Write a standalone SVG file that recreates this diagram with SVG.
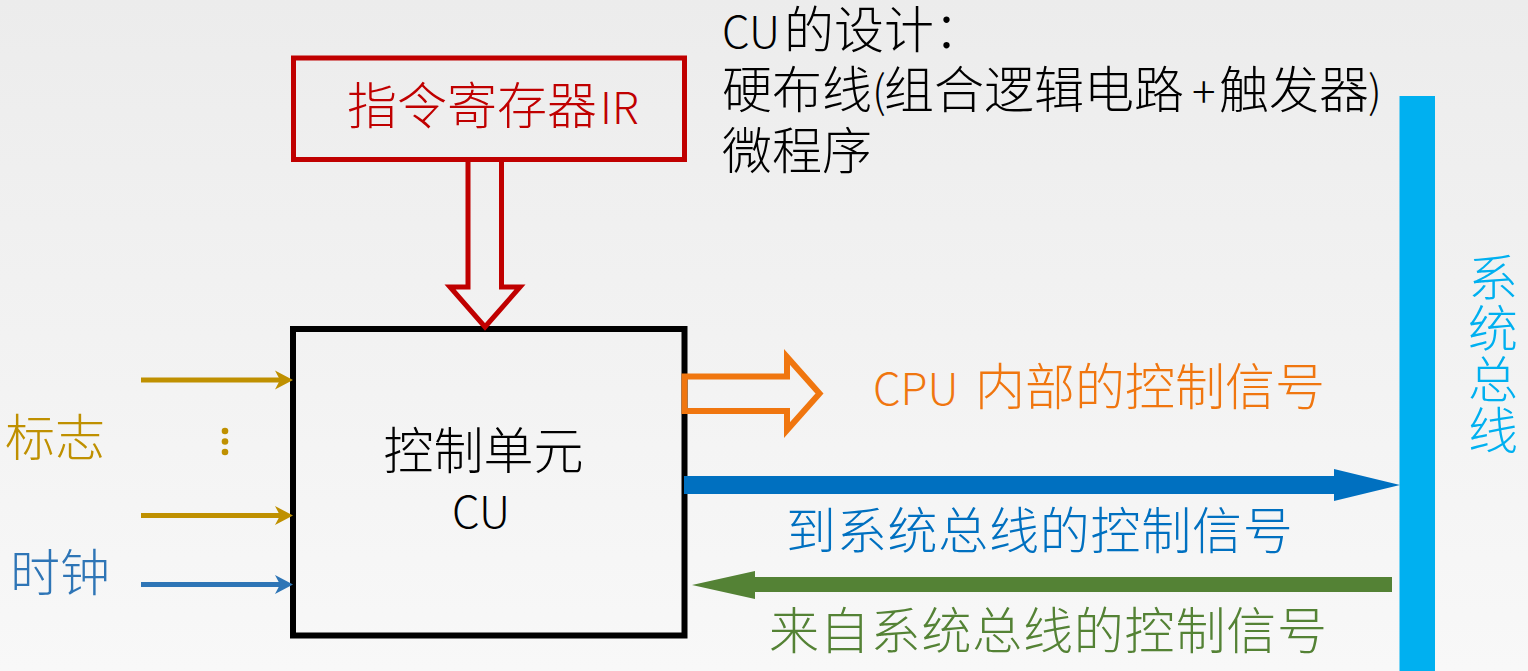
<svg xmlns="http://www.w3.org/2000/svg" width="1528" height="671" viewBox="0 0 1528 671">
  <defs>
    <linearGradient id="bg" x1="0" y1="0" x2="0" y2="1">
      <stop offset="0" stop-color="#ECECEC"/>
      <stop offset="1" stop-color="#F8F8F8"/>
    </linearGradient>
    <marker id="head-gold" markerUnits="userSpaceOnUse" markerWidth="20" markerHeight="20" refX="8" refY="9.5" orient="auto" overflow="visible">
      <path d="M0,0 L18,9.5 L0,19 L5,9.5 Z" fill="#BF9000"/>
    </marker>
    <marker id="head-clock" markerUnits="userSpaceOnUse" markerWidth="20" markerHeight="20" refX="8" refY="9.5" orient="auto" overflow="visible">
      <path d="M0,0 L18,9.5 L0,19 L5,9.5 Z" fill="#2E75B6"/>
    </marker>
  </defs>
  <style>
    text { font-family: "Noto Sans CJK SC", "Noto Sans", sans-serif; font-size: 50px; font-weight: 300; }
    .lat { font-size: 44px; }
    .box { fill: none; stroke-linejoin: miter; }
    .hollow { fill: none; stroke-linejoin: miter; stroke-miterlimit: 10; }
    .in-line { fill: none; stroke-width: 5; }
  </style>

  <rect width="1528" height="671" fill="url(#bg)"/>

  <!-- design note, three lines in one text block -->
  <g id="note-design" fill="#000000">
    <text><tspan x="722" y="48" class="lat">CU</tspan><tspan x="784" y="48">的设计：</tspan><tspan x="722" y="108">硬布线</tspan><tspan x="872" y="108" class="lat">(</tspan><tspan x="884" y="108">组合逻辑电路</tspan><tspan x="1192" y="108" class="lat">+</tspan><tspan x="1219" y="108">触发器</tspan><tspan x="1368" y="108" class="lat">)</tspan><tspan x="722" y="169">微程序</tspan></text>
  </g>

  <!-- instruction register -->
  <g id="node-ir">
    <rect class="box" x="293.5" y="58" width="391" height="101.5" stroke="#C00000" stroke-width="5"/>
    <text y="124" fill="#C00000"><tspan x="347">指令寄存器</tspan><tspan x="600" class="lat">IR</tspan></text>
  </g>

  <!-- control unit -->
  <g id="node-cu">
    <rect class="box" x="293" y="329" width="391.5" height="306.5" stroke="#000000" stroke-width="6"/>
    <text x="483.5" y="469" text-anchor="middle" fill="#000000">控制单元</text>
    <text x="481" y="528" text-anchor="middle" class="lat" fill="#000000">CU</text>
  </g>

  <!-- system bus -->
  <g id="node-bus">
    <rect x="1399.5" y="96" width="35.5" height="575" fill="#00B0F0"/>
    <text x="1493" y="252" fill="#00B0F0" style="writing-mode: vertical-rl" letter-spacing="1">系统总线</text>
  </g>

  <!-- input labels -->
  <g id="label-flags" fill="#BF9000">
    <text x="5" y="456" font-size="48">标志</text>
    <circle cx="225" cy="431" r="3.3"/>
    <circle cx="225" cy="441.5" r="3.3"/>
    <circle cx="225" cy="452" r="3.3"/>
  </g>
  <g id="label-clock">
    <text x="10" y="591" font-size="48" fill="#2E75B6">时钟</text>
  </g>

  <!-- connectors -->
  <g id="connectors">
    <!-- IR to CU wide hollow arrow -->
    <polygon class="hollow" points="468,159.5 468,287 450,287 485,327 520,287 501.5,287 501.5,159.5" stroke="#C00000" stroke-width="5"/>
    <!-- flag and clock inputs -->
    <line class="in-line" x1="141" y1="380" x2="283" y2="380" stroke="#BF9000" marker-end="url(#head-gold)"/>
    <line class="in-line" x1="141" y1="515.5" x2="283" y2="515.5" stroke="#BF9000" marker-end="url(#head-gold)"/>
    <line class="in-line" x1="141" y1="584.5" x2="283" y2="584.5" stroke="#2E75B6" marker-end="url(#head-clock)"/>
    <!-- CPU-internal control signals -->
    <polygon class="hollow" points="684.5,376.5 787,376.5 787,357 819.5,393.5 787,430 787,411 684.5,411" stroke="#F0760F" stroke-width="6"/>
    <!-- to system bus -->
    <polygon points="684,476 1334,476 1334,469 1400,485 1334,501 1334,494 684,494" fill="#0070C0"/>
    <!-- from system bus -->
    <polygon points="1392,577 755,577 755,571 692,585 755,599 755,592 1392,592" fill="#548235"/>
  </g>

  <g id="connector-labels">
    <text y="405" fill="#F0760F"><tspan x="873" class="lat">CPU</tspan><tspan x="975">内部的控制信号</tspan></text>
    <text x="786" y="549" fill="#0070C0" letter-spacing="0.75">到系统总线的控制信号</text>
    <text x="769" y="649" fill="#548235" letter-spacing="0.8">来自系统总线的控制信号</text>
  </g>
</svg>
